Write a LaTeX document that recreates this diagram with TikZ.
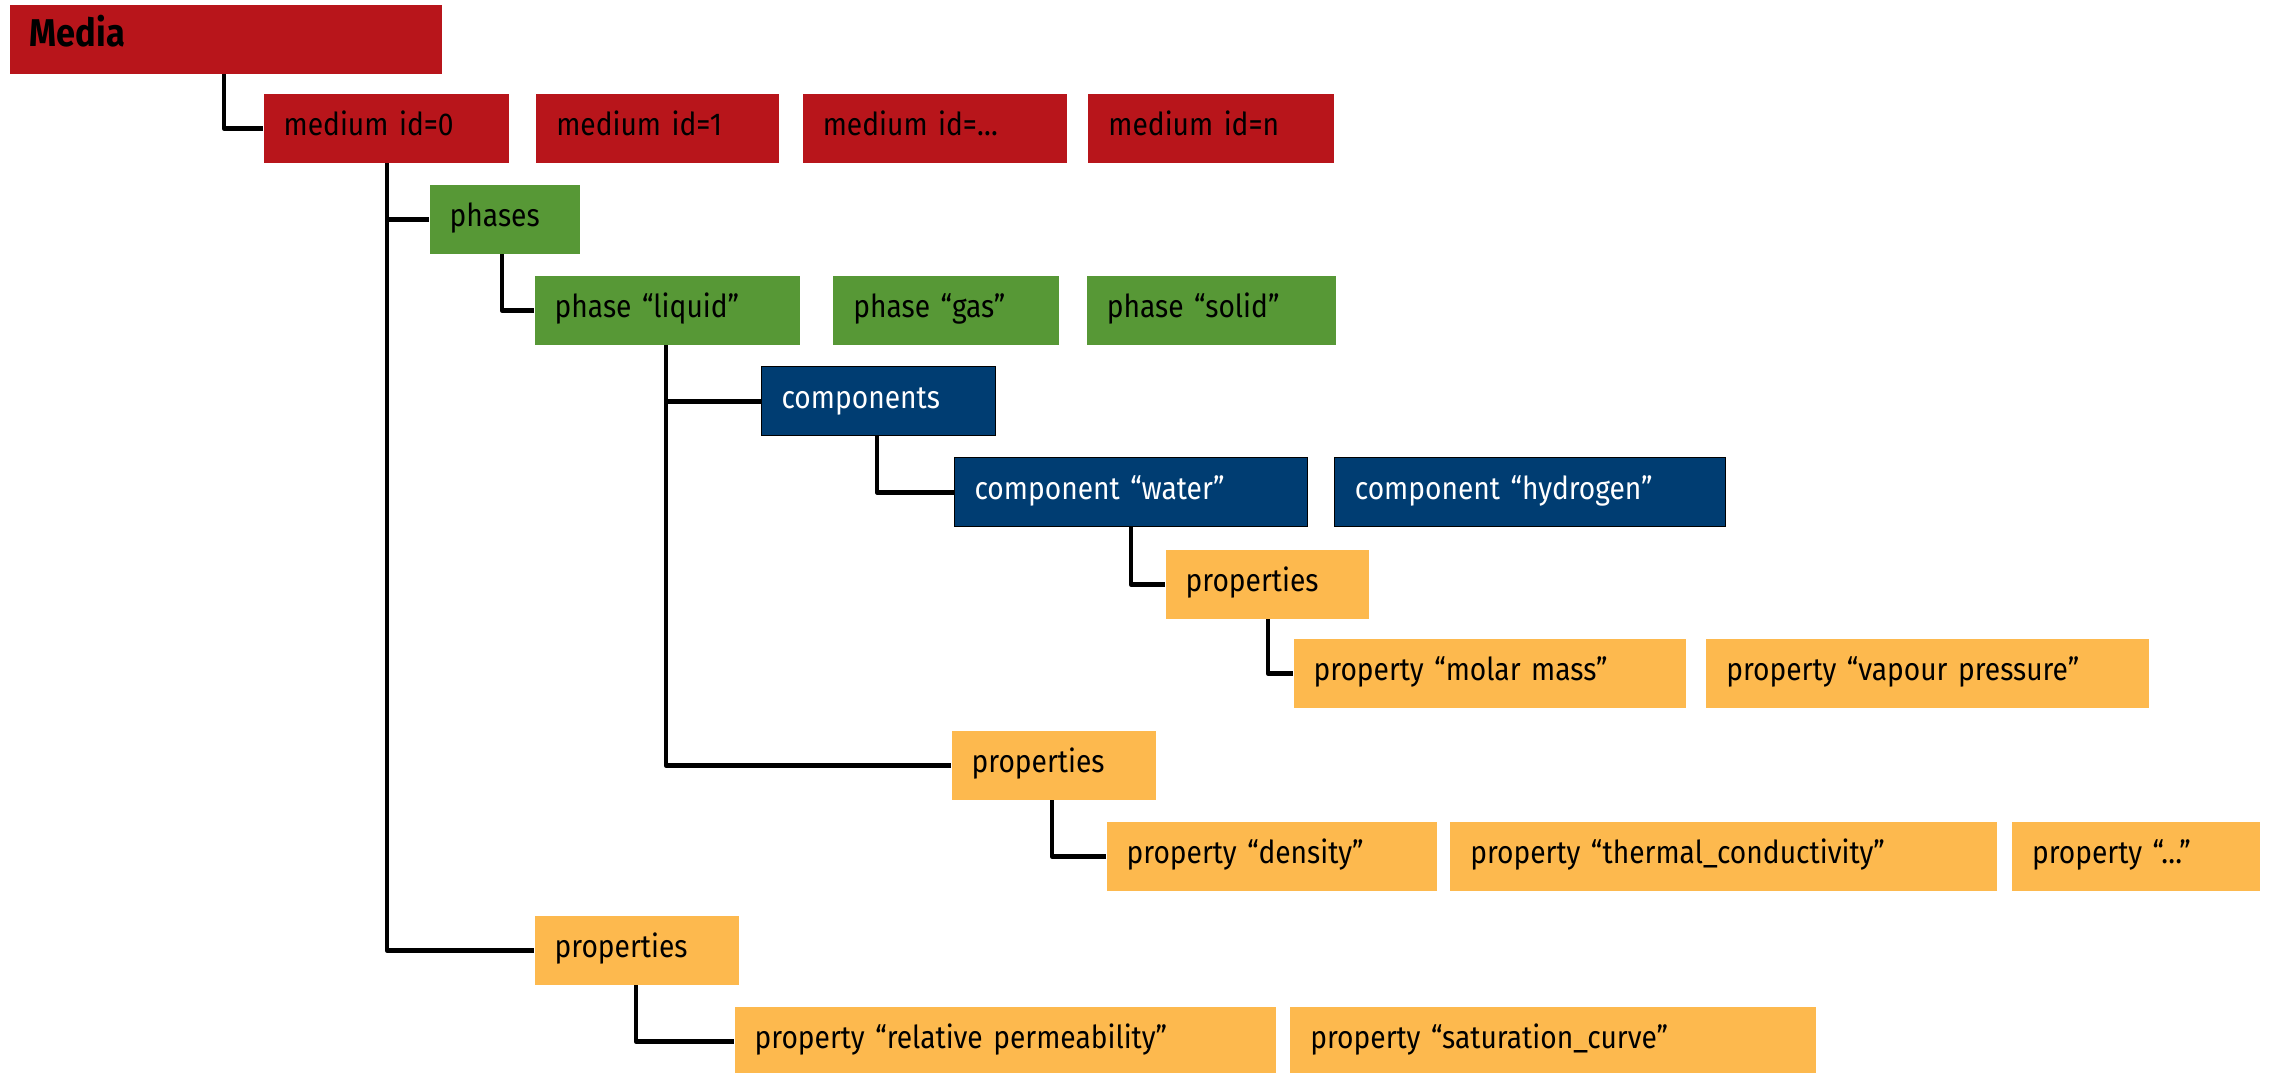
\documentclass[tikz,border=0pt]{standalone}
\usepackage{fontspec}
\setmainfont[FakeStretch=0.89]{Fira Sans}
\usepackage{tikz}
\usetikzlibrary{positioning, calc}
\definecolor{mediared}{RGB}{184,21,27}
\definecolor{phasegreen}{RGB}{87,152,54}
\definecolor{compblue}{RGB}{0,61,114}
\definecolor{propyellow}{RGB}{253,185,78}

\begin{document}
\begin{tikzpicture}[
        x=0.01cm, y=-0.01cm,
        every node/.style={font=\fontsize{9}{10}\selectfont},
        % Estilos de las cajas
        box/.style={rectangle, anchor=north west, minimum height=0.69cm, inner xsep=0.2cm, inner ysep=0pt,
                    text height=0.24cm, text depth=0.09cm, align=left},
        medium/.style={box, fill=mediared},
        phase/.style={box, fill=phasegreen},
        comp/.style={box, fill=compblue, draw=black, line width=0.3pt, text=white},
        prop/.style={box, fill=propyellow},
        link/.style={line width=1.4pt, line join=round}
        ]
            \useasboundingbox (0,0) rectangle (2270,1072);

            % --- Nivel medio ---
            \node (media) [medium, text width=3.92cm, text height=0.28cm, text depth=0.14cm,
                           font=\fontsize{11}{12}\selectfont\bfseries] at (9,4) {Media};
            \node (m0) [medium, text width=2.05cm] at (263,93) {medium id=0};
            \node (m1) [medium, right=0.26cm of m0, text width=2.03cm] {medium id=1};
            \node (mdots) [medium, right=0.22cm of m1, text width=2.24cm] {medium id=…};
            \node (mn) [medium, right=0.20cm of mdots, text width=2.05cm] {medium id=n};

            % --- Fases ---
            \node (phases) [phase, text width=1.10cm] at (429,184) {phases};
            \node (liquid) [phase, text width=2.25cm] at (534,275) {phase “liquid”};
            \node (gas) [phase, right=0.32cm of liquid, text width=1.86cm] {phase “gas”};
            \node (solid) [phase, right=0.26cm of gas, text width=2.09cm] {phase “solid”};

            % --- Componentes ---
            \node (components) [comp, text width=1.94cm] at (761,366) {components};
            \node (water) [comp, text width=3.13cm] at (954,457) {component “water”};
            \node (hydrogen) [comp, right=0.26cm of water, text width=3.50cm] {component “hydrogen”};

            % --- Propiedades del componente ---
            \node (cprops) [prop, text width=1.63cm] at (1165,549) {properties};
            \node (molar) [prop, text width=3.52cm] at (1293,638) {property “molar mass”};
            \node (vapour) [prop, right=0.19cm of molar, text width=4.02cm] {property “vapour pressure”};

            % --- Propiedades de la fase ---
            \node (pprops) [prop, text width=1.64cm] at (951,730) {properties};
            \node (density) [prop, text width=2.90cm] at (1106,821) {property “density”};
            \node (thermal) [prop, right=0.12cm of density, text width=5.06cm] {property “thermal\_conductivity”};
            \node (pdots) [prop, right=0.14cm of thermal, text width=2.08cm] {property “…”};

            % --- Propiedades del medio ---
            \node (mprops) [prop, text width=1.64cm] at (534,915) {properties};
            \node (relperm) [prop, text width=5.01cm] at (734,1006) {property “relative permeability”};
            \node (satcurve) [prop, right=0.13cm of relperm, text width=4.85cm] {property “saturation\_curve”};

            % --- Conexiones del arbol ---
            \draw [link] ($(media.south west)+(215,0)$) |- (m0.west);
            \draw [link] ($(m0.south west)+(124,0)$) |- (phases.west);
            \draw [link] ($(m0.south west)+(124,0)$) |- (mprops.west);
            \draw [link] ($(phases.south west)+(73,0)$) |- (liquid.west);
            \draw [link] ($(liquid.south west)+(132,0)$) |- (components.west);
            \draw [link] ($(liquid.south west)+(132,0)$) |- (pprops.west);
            \draw [link] ($(components.south west)+(116,0)$) |- (water.west);
            \draw [link] ($(water.south west)+(177,0)$) |- (cprops.west);
            \draw [link] ($(cprops.south west)+(103,0)$) |- (molar.west);
            \draw [link] ($(pprops.south west)+(101,0)$) |- (density.west);
            \draw [link] ($(mprops.south west)+(102,0)$) |- (relperm.west);
        \end{tikzpicture}
\end{document}
